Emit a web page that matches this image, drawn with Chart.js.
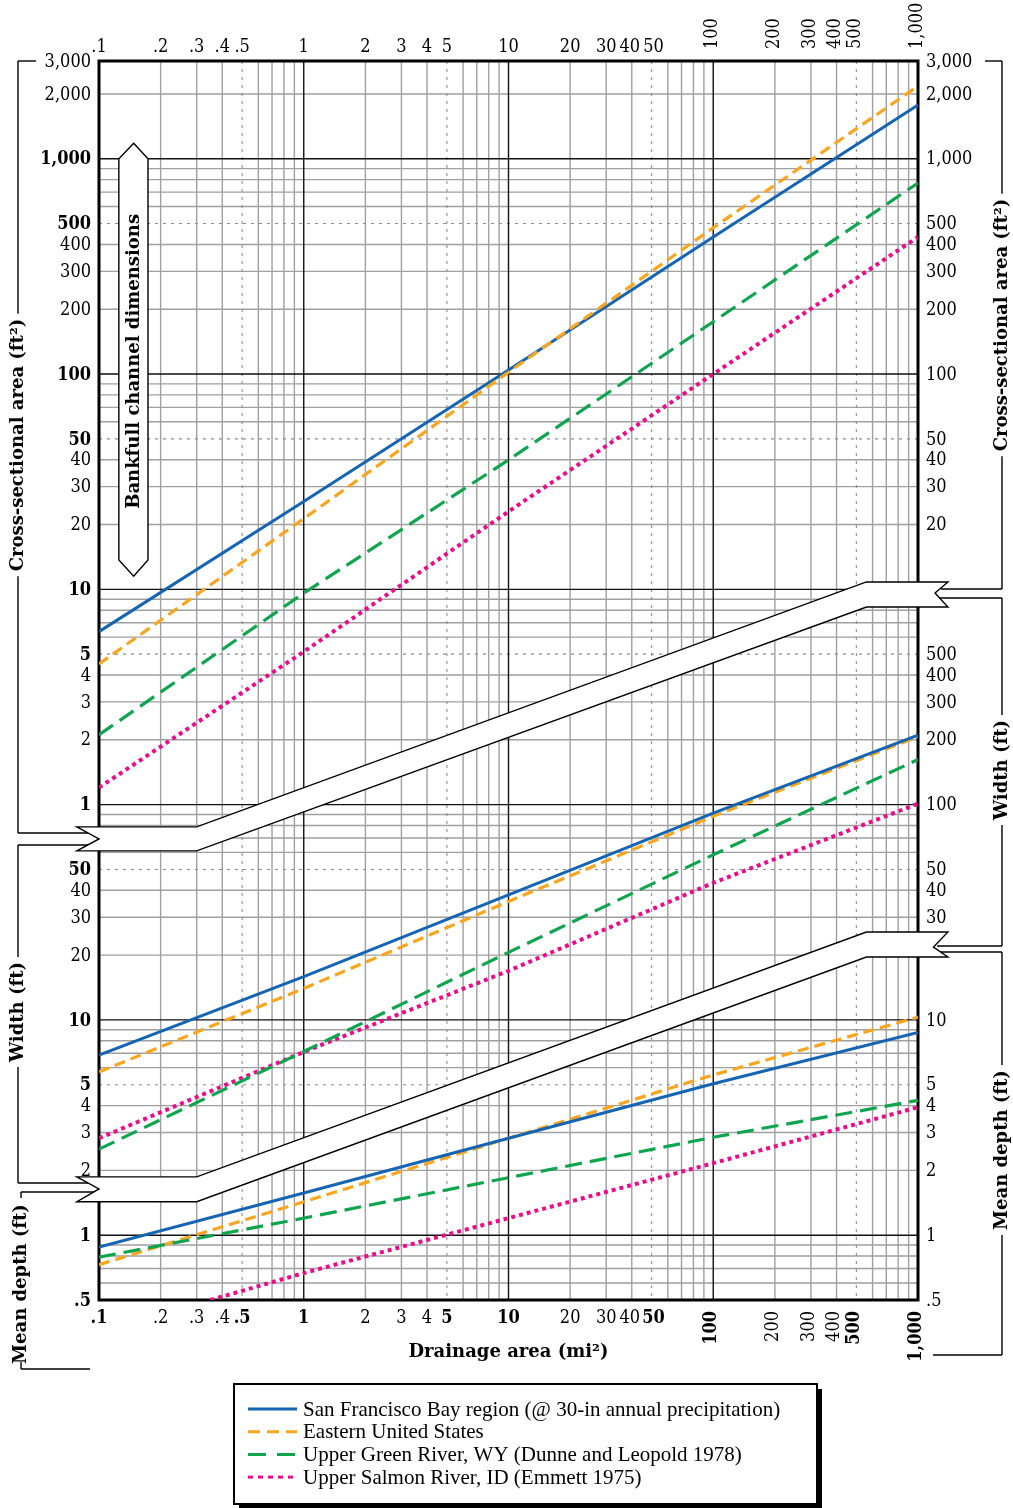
<!DOCTYPE html>
<html><head><meta charset="utf-8">
<script src="https://cdn.jsdelivr.net/npm/chart.js@4.4.1/dist/chart.umd.min.js"></script>
<style>html,body{margin:0;padding:0;background:#fff;}#wrap{width:1013px;height:1508px;}</style>
</head><body><div id="wrap"><canvas id="c" width="1013" height="1508"></canvas></div>
<script>
// ---------- DATA ----------
const drainageArea = [0.1, 1, 10, 100, 1000];            // mi²
const salmonDepthArea = [0.35, 1, 10, 100, 1000];        // salmon depth line starts at chart bottom
const seriesNames = [
  'San Francisco Bay region (@ 30-in annual precipitation)',
  'Eastern United States',
  'Upper Green River, WY (Dunne and Leopold 1978)',
  'Upper Salmon River, ID (Emmett 1975)'
];
// Cross-sectional area (ft²)
const areaSF     = [6.36, 25.6, 104.5, 433, 1778];
const areaEast   = [4.5, 21.3, 102, 478, 2177];
const areaGreen  = [2.11, 9.6, 39.9, 175, 772];
const areaSalmon = [1.2, 5.13, 23, 100, 433];
// Width (ft)
const widthSF     = [6.87, 15.9, 38.1, 91.4, 210];
const widthEast   = [5.73, 14.0, 35.5, 88.3, 207];
const widthGreen  = [2.51, 7.13, 20.6, 58.5, 162];
const widthSalmon = [2.82, 7.1, 16.9, 43.3, 101];
// Mean depth (ft)
const depthSF     = [0.88, 1.57, 2.82, 5.05, 8.75];
const depthEast   = [0.73, 1.43, 2.82, 5.55, 10.3];
const depthGreen  = [0.79, 1.2, 1.85, 2.85, 4.23];
const depthSalmon = [0.5, 0.667, 1.2, 2.16, 3.93];

// Tick labels
const xTicks = [0.1,0.2,0.3,0.4,0.5,1,2,3,4,5,10,20,30,40,50,100,200,300,400,500,1000];
const xBoldBottom = [0.1,0.5,1,5,10,50,100,500,1000];
const areaLeftTicks  = [3000,2000,1000,500,400,300,200,100,50,40,30,20,10,5,4,3,2,1];
const areaLeftBold   = [1000,500,100,50,10,5,1];
const widthLeftTicks = [50,40,30,20,10,5,4,3,2];
const widthLeftBold  = [50,10,5];
const depthLeftTicks = [1,0.5];
const depthLeftBold  = [1,0.5];
const areaRightTicks  = [3000,2000,1000,500,400,300,200,100,50,40,30,20];
const widthRightTicks = [500,400,300,200,100,50,40,30];
const depthRightTicks = [10,5,4,3,2,1,0.5];

// ---------- panel placement on the shared log axis ----------
const AREA_FACTOR = 100, WIDTH_FACTOR = 1, DEPTH_FACTOR = 1;
const Y_MIN = 0.5, Y_MAX = 2.845e5;

const COLORS = ['#1565b2', '#f8a61f', '#0fa54f', '#ec0b8c'];
const DASHES = [[], [11,6], [17,8], [4,4]];
const WIDTHS = [3, 3.2, 3.2, 4];

function mk(vals, factor, s, xs) {
  return {
    label: seriesNames[s],
    data: (xs || drainageArea).map((x, i) => ({x: x, y: vals[i] * factor})),
    borderColor: COLORS[s], borderWidth: WIDTHS[s], borderDash: DASHES[s],
    borderCapStyle: 'butt', pointRadius: 0, tension: 0, fill: false
  };
}
const datasets = [
  mk(areaGreen, AREA_FACTOR, 2), mk(areaSalmon, AREA_FACTOR, 3), mk(areaEast, AREA_FACTOR, 1), mk(areaSF, AREA_FACTOR, 0),
  mk(widthGreen, WIDTH_FACTOR, 2), mk(widthSalmon, WIDTH_FACTOR, 3), mk(widthSF, WIDTH_FACTOR, 0), mk(widthEast, WIDTH_FACTOR, 1),
  mk(depthGreen, DEPTH_FACTOR, 2), mk(depthSalmon, DEPTH_FACTOR, 3, salmonDepthArea), mk(depthSF, DEPTH_FACTOR, 0), mk(depthEast, DEPTH_FACTOR, 1)
];

// ---------- decorations (in data space of the shared axes) ----------
const bands = [
  {xo:0.078, xt:0.1, xk:0.3, xr:560, xro:1400, xrt:1211,
   lTop:78.8, lBot:61, lTip:69.3, rTop:1082, rBot:828, rTip:962},
  {xo:0.078, xt:0.1, xk:0.3, xr:560, xro:1400, xrt:1190,
   lTop:1.866, lBot:1.43, lTip:1.64, rTop:25.6, rBot:19.6, rTip:21.8}
];
const bankArrow = {xl:0.125, xr:0.1735, xc:0.1477, yTip:1.18e5, yTop:1e5, yBot:1368, yTipB:1151};

const SERIF = '"DejaVu Serif", serif';
const TICK_FONT = '18px ' + SERIF, TICK_BOLD = 'bold 18px ' + SERIF, SX = 0.9;
const LABEL_NUDGE = {40: -2, 50: 2};   // keeps crowded labels apart
function fmt(v){ if (v >= 1000) return v.toLocaleString('en-US'); if (v < 1) return String(v).replace(/^0/, ''); return String(v); }

const deco = {
  id: 'deco',
  beforeDraw(chart) {
    const ctx = chart.ctx; ctx.save(); ctx.fillStyle = '#fff'; ctx.fillRect(0,0,chart.width,chart.height); ctx.restore();
  },
  beforeDatasetsDraw(chart) {
    const ctx = chart.ctx, xs = chart.scales.x, ys = chart.scales.y, a = chart.chartArea;
    const X = v => xs.getPixelForValue(v), Y = v => ys.getPixelForValue(v);
    ctx.save();
    // grid
    const vx = {gray:[], dot:[], black:[]}, hy = {gray:[], dot:[], black:[]};
    for (let e = -1; e < 3; e++) for (let m = 1; m < 10; m++) {
      const v = +(m * Math.pow(10, e)).toPrecision(6);
      if (v <= 0.1 || v >= 1000) continue;
      (m === 1 ? vx.black : m === 5 ? vx.dot : vx.gray).push(X(v));
    }
    for (let e = -1; e < 6; e++) for (let m = 1; m < 10; m++) {
      const v = +(m * Math.pow(10, e)).toPrecision(6);
      if (v <= Y_MIN || v >= Y_MAX) continue;
      (m === 1 ? hy.black : m === 5 ? hy.dot : hy.gray).push(Y(v));
    }
    function lines(arrV, arrH, color, w, dash) {
      ctx.strokeStyle = color; ctx.lineWidth = w; ctx.setLineDash(dash);
      ctx.beginPath();
      arrV.forEach(px => { ctx.moveTo(px, a.top); ctx.lineTo(px, a.bottom); });
      arrH.forEach(py => { ctx.moveTo(a.left, py); ctx.lineTo(a.right, py); });
      ctx.stroke();
    }
    lines(vx.gray, hy.gray, '#a0a0a0', 1.4, []);
    lines(vx.dot, hy.dot, '#8c8c8c', 1.1, [3,5]);
    lines(vx.black, hy.black, '#111', 1.4, []);
    ctx.setLineDash([]);
    // plot border
    ctx.strokeStyle = '#000'; ctx.lineWidth = 3;
    ctx.strokeRect(a.left, a.top, a.right - a.left, a.bottom - a.top);
    // break bands
    bands.forEach(b => {
      ctx.beginPath();
      ctx.moveTo(X(b.xo), Y(b.lTop)); ctx.lineTo(X(b.xk), Y(b.lTop));
      ctx.lineTo(X(b.xr), Y(b.rTop)); ctx.lineTo(X(b.xro), Y(b.rTop));
      ctx.lineTo(X(b.xrt), Y(b.rTip)); ctx.lineTo(X(b.xro), Y(b.rBot));
      ctx.lineTo(X(b.xr), Y(b.rBot)); ctx.lineTo(X(b.xk), Y(b.lBot));
      ctx.lineTo(X(b.xo), Y(b.lBot)); ctx.lineTo(X(b.xt), Y(b.lTip));
      ctx.closePath();
      ctx.fillStyle = '#fff'; ctx.fill();
      ctx.strokeStyle = '#000'; ctx.lineWidth = 1.4; ctx.stroke();
    });
    // bankfull arrow
    const A = bankArrow;
    ctx.beginPath();
    ctx.moveTo(X(A.xc), Y(A.yTip)); ctx.lineTo(X(A.xr), Y(A.yTop)); ctx.lineTo(X(A.xr), Y(A.yBot));
    ctx.lineTo(X(A.xc), Y(A.yTipB)); ctx.lineTo(X(A.xl), Y(A.yBot)); ctx.lineTo(X(A.xl), Y(A.yTop));
    ctx.closePath(); ctx.fillStyle = '#fff'; ctx.fill(); ctx.strokeStyle = '#000'; ctx.lineWidth = 1.4; ctx.stroke();
    ctx.save();
    ctx.translate(X(A.xc) + 1, (Y(A.yTop) + Y(A.yBot)) / 2 + 2);
    ctx.rotate(-Math.PI / 2);
    ctx.fillStyle = '#000'; ctx.font = 'bold 18px ' + SERIF; ctx.textAlign = 'center'; ctx.textBaseline = 'middle';
    ctx.fillText('Bankfull channel dimensions', 0, 0);
    ctx.restore();

    // ---------- tick labels ----------
    ctx.fillStyle = '#000';
    // text drawn with a slight horizontal condensation (rot: rotated -90°)
    function tx(text, x, y, align, base, font, rot) {
      ctx.save(); ctx.translate(x, y);
      if (rot) { ctx.rotate(-Math.PI/2); }
      ctx.scale(SX, 1);
      ctx.font = font; ctx.textAlign = align; ctx.textBaseline = base;
      ctx.fillText(text, 0, 0); ctx.restore();
    }
    xTicks.forEach(v => {
      const px = X(v) + (LABEL_NUDGE[v] || 0), lab = fmt(v);
      if (v < 100) tx(lab, px, a.top - 9, 'center', 'alphabetic', TICK_FONT, false);
      else tx(lab, px - 1, a.top - 12, 'left', 'middle', TICK_FONT, true);
      const f = xBoldBottom.includes(v) ? TICK_BOLD : TICK_FONT;
      if (v < 100) tx(lab, px, a.bottom + 23, 'center', 'alphabetic', f, false);
      else tx(lab, px - 2, a.bottom + 11, 'right', 'middle', f, true);
    });
    function yLabels(ticks, bold, factor, side) {
      ticks.forEach(v => {
        let py = Y(Math.min(v * factor, Y_MAX)); if (py < a.top) py = a.top;
        const f = (bold && bold.includes(v)) ? TICK_BOLD : TICK_FONT;
        if (side === 'L') tx(fmt(v), a.left - 8, py + 1, 'right', 'middle', f, false);
        else tx(fmt(v), a.right + 8, py + 1, 'left', 'middle', f, false);
      });
    }
    yLabels(areaLeftTicks, areaLeftBold, AREA_FACTOR, 'L');
    yLabels(widthLeftTicks, widthLeftBold, WIDTH_FACTOR, 'L');
    yLabels(depthLeftTicks, depthLeftBold, DEPTH_FACTOR, 'L');
    yLabels(areaRightTicks, null, AREA_FACTOR, 'R');
    yLabels(widthRightTicks, null, WIDTH_FACTOR, 'R');
    yLabels(depthRightTicks, null, DEPTH_FACTOR, 'R');

    // x title
    ctx.font = 'bold 18px ' + SERIF; ctx.textAlign = 'center'; ctx.textBaseline = 'middle';
    ctx.fillText('Drainage area (mi²)', (a.left + a.right) / 2, a.bottom + 52);

    // ---------- brackets with rotated titles ----------
    ctx.strokeStyle = '#000'; ctx.lineWidth = 1.4;
    function seg(x1,y1,x2,y2){ ctx.beginPath(); ctx.moveTo(x1,y1); ctx.lineTo(x2,y2); ctx.stroke(); }
    function vtitle(text, x, yc, top, bottom) {
      ctx.font = 'bold 18px ' + SERIF;
      const w = ctx.measureText(text).width;
      ctx.save(); ctx.translate(x, yc); ctx.rotate(-Math.PI/2);
      ctx.textAlign = 'center'; ctx.textBaseline = 'middle'; ctx.fillText(text, 0, 0); ctx.restore();
      if (top !== null && top < yc - w/2 - 5) seg(x, top, x, yc - w/2 - 5);
      if (bottom !== null && bottom > yc + w/2 + 5) seg(x, yc + w/2 + 5, x, bottom);
    }
    const LX = 18, RX = 1002;
    // left
    seg(LX, a.top, 36, a.top);
    vtitle('Cross-sectional area (ft²)', LX, 445, a.top, 833);
    seg(LX, 833, 88, 833);
    seg(LX, 845, 88, 845);
    vtitle('Width (ft)', LX, 1012, 845, 1183);
    seg(LX, 1183, 88, 1183);
    seg(21, 1192, 94, 1192); seg(21, 1192, 21, 1198);
    vtitle('Mean depth (ft)', 21, 1284, null, null);
    seg(21, 1369, 90, 1369); seg(21, 1362, 21, 1369);
    // right
    seg(985, a.top, RX, a.top);
    vtitle('Cross-sectional area (ft²)', RX, 325, a.top, 589);
    seg(941, 589, RX, 589);
    seg(939, 598, RX, 598);
    vtitle('Width (ft)', RX, 770, 598, 946);
    seg(937, 946, RX, 946);
    seg(941, 952, RX, 952);
    vtitle('Mean depth (ft)', RX, 1150, 952, 1355);
    seg(933, 1355, RX, 1355);

    // ---------- legend ----------
    const L = {x:234, y:1384, w:583, h:120};
    ctx.fillStyle = '#000'; ctx.fillRect(L.x + 5, L.y + 5, L.w, L.h);
    ctx.fillStyle = '#fff'; ctx.fillRect(L.x, L.y, L.w, L.h);
    ctx.lineWidth = 2; ctx.strokeRect(L.x, L.y, L.w, L.h);
    const legDash = [[], [12,7], [18,11], [5,5]];
    seriesNames.forEach((n, i) => {
      const yy = 1409 + i * 22.7;
      ctx.strokeStyle = COLORS[i]; ctx.lineWidth = 3; ctx.setLineDash(legDash[i]);
      seg(248, yy, 297, yy);
      ctx.setLineDash([]);
      ctx.fillStyle = '#000'; ctx.font = '21px "Liberation Serif", serif';
      ctx.textAlign = 'left'; ctx.textBaseline = 'middle';
      ctx.fillText(n, 303, yy + 1);
    });
    ctx.restore();
  }
};

new Chart(document.getElementById('c'), {
  type: 'line',
  data: { datasets: datasets },
  options: {
    responsive: false, animation: false, parsing: true,
    layout: { padding: { left: 99, right: 95, top: 61, bottom: 208 } },
    plugins: { legend: { display: false }, tooltip: { enabled: false } },
    scales: {
      x: { type: 'logarithmic', min: 0.1, max: 1000, display: false },
      y: { type: 'logarithmic', min: Y_MIN, max: Y_MAX, display: false }
    }
  },
  plugins: [deco]
});
</script>
</body></html>
